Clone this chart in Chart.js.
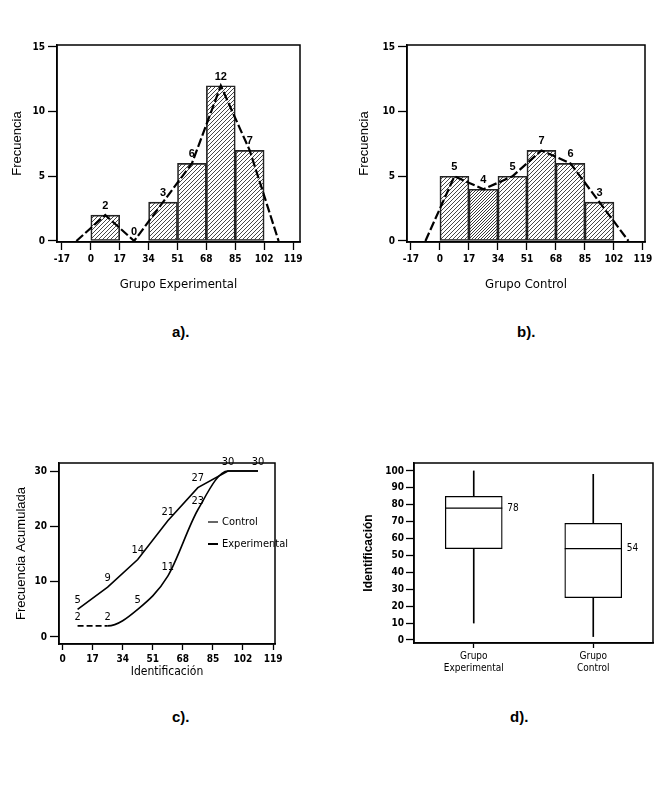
<!DOCTYPE html>
<html>
<head>
<meta charset="utf-8">
<script src="https://cdn.jsdelivr.net/npm/chart.js@4.4.1/dist/chart.umd.min.js"></script>
<style>
  body { margin: 0; background: #fff; width: 656px; height: 787px; position: relative; overflow: hidden; }
  canvas { position: absolute; }
  .cap { position: absolute; font: bold 15px 'Liberation Sans', Arial, sans-serif; color: #000; }
</style>
</head>
<body>
<canvas id="histA" width="320" height="270" style="left:0;top:30px"></canvas>
<canvas id="histB" width="326" height="270" style="left:330px;top:30px"></canvas>
<canvas id="cumC" width="300" height="250" style="left:0;top:440px"></canvas>
<canvas id="boxD" width="326" height="250" style="left:330px;top:440px"></canvas>
<div class="cap" style="left:172px;top:323px">a).</div>
<div class="cap" style="left:517px;top:323px">b).</div>
<div class="cap" style="left:172px;top:708px">c).</div>
<div class="cap" style="left:510px;top:708px">d).</div>
<script>
// histogram bins (class marks) and frequencies
const binMids = [8.5, 25.5, 42.5, 59.5, 76.5, 93.5];
const expFreq = [2, 0, 3, 6, 12, 7];
const ctlFreq = [5, 4, 5, 7, 6, 3];
// frequency polygons
const polyX = [-8.5, 8.5, 25.5, 42.5, 59.5, 76.5, 93.5, 110.5];
const expPoly = [0, 2, 0, 3, 6, 12, 7, 0];
const ctlPoly = [0, 5, 4, 5, 7, 6, 3, 0];
const histTicks = [-17, 0, 17, 34, 51, 68, 85, 102, 119];
const freqTicks = [0, 5, 10, 15];

// cumulative frequencies
const cumX = [8.5, 25.5, 42.5, 59.5, 76.5, 93.5, 110.5];
const ctlCum = [5, 9, 14, 21, 27, 30, 30];
const expCum = [2, 2, 5, 11, 23, 30, 30];
const cumXTicks = [0, 17, 34, 51, 68, 85, 102, 119];
const cumYTicks = [0, 10, 20, 30];

// box plots
const groups = [['Grupo', 'Experimental'], ['Grupo', 'Control']];
const boxMin = [10, 2];
const boxQ1 = [54, 25];
const boxMedian = [78, 54];
const boxQ3 = [85, 69];
const boxMax = [100, 98];
const idTicks = [0, 10, 20, 30, 40, 50, 60, 70, 80, 90, 100];

const NARROW = "'Liberation Sans Narrow', 'DejaVu Sans Condensed', sans-serif";
const SANS = "'Liberation Sans', Arial, sans-serif";
const tickFont = { family: NARROW, size: 10, weight: 'bold' };

const fixedTicks = values => scale => { scale.ticks = values.map(v => ({ value: v })); };

function hatch(gap, color) {
  const tile = document.createElement('canvas');
  tile.width = tile.height = gap;
  const t = tile.getContext('2d');
  t.strokeStyle = color;
  t.lineWidth = 0.9;
  t.beginPath();
  t.moveTo(0, gap); t.lineTo(gap, 0);
  t.moveTo(-1, 1); t.lineTo(1, -1);
  t.moveTo(gap - 1, gap + 1); t.lineTo(gap + 1, gap - 1);
  t.stroke();
  return t.createPattern(tile, 'repeat');
}

const framePlugin = {
  id: 'frame',
  afterDatasetsDraw(chart) {
    const { ctx, chartArea: a } = chart;
    ctx.save();
    ctx.strokeStyle = '#000';
    ctx.lineWidth = 1.5;
    ctx.strokeRect(a.left, a.top, a.right - a.left, a.bottom - a.top);
    ctx.restore();
  }
};

const barLabels = {
  id: 'barLabels',
  afterDatasetsDraw(chart) {
    const { ctx } = chart;
    const meta = chart.getDatasetMeta(1);
    const values = chart.data.datasets[1].data;
    ctx.save();
    ctx.font = 'bold 11px ' + SANS;
    ctx.fillStyle = '#000';
    ctx.textAlign = 'center';
    ctx.textBaseline = 'middle';
    meta.data.forEach((el, i) => ctx.fillText(String(values[i].y), el.x, el.y - 9));
    ctx.restore();
  }
};

function histogram(id, freq, poly, title, xMin, xMax, yWidth, titlePad, padRight, fills) {
  new Chart(document.getElementById(id), {
    type: 'bar',
    data: {
      datasets: [
        {
          type: 'line',
          data: polyX.map((x, i) => ({ x, y: poly[i] })),
          borderColor: '#000', borderWidth: 2.2, borderDash: [9, 3],
          pointRadius: 0, order: 0
        },
        {
          type: 'bar',
          data: binMids.map((x, i) => ({ x, y: freq[i] })),
          backgroundColor: fills, borderColor: '#222', borderWidth: 1,
          borderSkipped: false, barPercentage: 1, categoryPercentage: 1, order: 1
        }
      ]
    },
    options: {
      responsive: false,
      animation: false,
      layout: { padding: { top: 15, right: padRight, bottom: 0, left: 0 } },
      plugins: { legend: { display: false }, tooltip: { enabled: false } },
      scales: {
        x: {
          type: 'linear', min: xMin, max: xMax, offset: false,
          grid: { offset: false, drawOnChartArea: false, tickLength: 8, tickColor: '#000', tickWidth: 1.3 },
          border: { color: '#000', width: 1.5 },
          afterBuildTicks: fixedTicks(histTicks),
          ticks: { color: '#000', font: tickFont, padding: 3, maxRotation: 0, autoSkip: false },
          title: { display: true, text: title, color: '#000', font: { family: NARROW, size: 13 }, padding: { top: 0, bottom: 8 } },
          afterFit: s => { s.height = 58; }
        },
        y: {
          min: -0.08, max: 15.15,
          grid: { drawOnChartArea: false, tickLength: 9, tickColor: '#000', tickWidth: 1.3 },
          border: { color: '#000', width: 1.5 },
          afterBuildTicks: fixedTicks(freqTicks),
          ticks: { color: '#000', font: tickFont, padding: 3 },
          title: { display: true, text: 'Frecuencia', color: '#000', font: { family: SANS, size: 13 }, padding: { top: titlePad, bottom: 0 } },
          afterFit: s => { s.width = yWidth; }
        }
      }
    },
    plugins: [framePlugin, barLabels]
  });
}

const plain = hatch(4, '#333');
const dense = hatch(3, '#222');
histogram('histA', expFreq, expPoly, 'Grupo Experimental', -19.9, 123.1, 57, 10, 20, expFreq.map(() => plain));
histogram('histB', ctlFreq, ctlPoly, 'Grupo Control', -19.3, 120.2, 77, 27, 11, ctlFreq.map((_, i) => i === 1 ? dense : plain));

// cumulative curves
const pointLabels = {
  id: 'pointLabels',
  afterDatasetsDraw(chart) {
    const { ctx } = chart;
    ctx.save();
    ctx.font = '11px ' + NARROW;
    ctx.fillStyle = '#000';
    ctx.textAlign = 'center';
    ctx.textBaseline = 'middle';
    chart.data.datasets.forEach((ds, d) => {
      chart.getDatasetMeta(d).data.forEach((pt, i) => {
        if (d === 1 && expCum[i] === ctlCum[i]) return;
        ctx.fillText(String(ds.data[i].y), pt.x, pt.y - 9);
      });
    });
    ctx.restore();
  }
};

const innerLegend = {
  id: 'innerLegend',
  afterDraw(chart) {
    const { ctx, chartArea: a } = chart;
    ctx.save();
    ctx.font = '11px ' + NARROW;
    ctx.fillStyle = '#000';
    ctx.textBaseline = 'middle';
    chart.data.datasets.forEach((ds, i) => {
      const x = a.left + 149, y = a.top + 59 + i * 22;
      ctx.strokeStyle = '#000';
      ctx.lineWidth = i === 0 ? 1.2 : 2;
      ctx.beginPath(); ctx.moveTo(x, y); ctx.lineTo(x + 10, y); ctx.stroke();
      ctx.fillText(ds.label, x + 14, y);
    });
    ctx.restore();
  }
};

new Chart(document.getElementById('cumC'), {
  type: 'line',
  data: {
    datasets: [
      {
        label: 'Control',
        data: cumX.map((x, i) => ({ x, y: ctlCum[i] })),
        borderColor: '#000', borderWidth: 1.6, pointRadius: 0, tension: 0
      },
      {
        label: 'Experimental',
        data: cumX.map((x, i) => ({ x, y: expCum[i] })),
        borderColor: '#000', borderWidth: 1.6, pointRadius: 0,
        cubicInterpolationMode: 'monotone',
        segment: { borderDash: c => c.p0DataIndex === 0 ? [6, 3] : undefined }
      }
    ]
  },
  options: {
    responsive: false,
    animation: false,
    layout: { padding: { top: 23, right: 25, bottom: 0, left: 0 } },
    plugins: { legend: { display: false }, tooltip: { enabled: false } },
    scales: {
      x: {
        type: 'linear', min: -2, max: 120.1,
        grid: { drawOnChartArea: false, tickLength: 6, tickColor: '#000', tickWidth: 1.3 },
        border: { color: '#000', width: 1.5 },
        afterBuildTicks: fixedTicks(cumXTicks),
        ticks: { color: '#000', font: tickFont, padding: 3, maxRotation: 0, autoSkip: false },
        title: { display: true, text: 'Identificación', color: '#000', font: { family: NARROW, size: 12 }, padding: { top: 0, bottom: 11 } },
        afterFit: s => { s.height = 46; }
      },
      y: {
        min: -1.27, max: 31.45,
        grid: { drawOnChartArea: false, tickLength: 9, tickColor: '#000', tickWidth: 1.3 },
        border: { color: '#000', width: 1.5 },
        afterBuildTicks: fixedTicks(cumYTicks),
        ticks: { color: '#000', font: tickFont, padding: 3 },
        title: { display: true, text: 'Frecuencia Acumulada', color: '#000', font: { family: SANS, size: 13 }, padding: { top: 14, bottom: 0 } },
        afterFit: s => { s.width = 59; }
      }
    }
  },
  plugins: [framePlugin, pointLabels, innerLegend]
});

// box plots
const medianPlugin = {
  id: 'median',
  afterDatasetsDraw(chart) {
    const { ctx } = chart;
    const boxes = chart.getDatasetMeta(2).data;
    const y = chart.scales.y;
    ctx.save();
    ctx.strokeStyle = '#000';
    ctx.lineWidth = 1.3;
    ctx.fillStyle = '#000';
    ctx.font = '10px ' + NARROW;
    ctx.textBaseline = 'middle';
    boxMedian.forEach((m, i) => {
      const el = boxes[i];
      const py = y.getPixelForValue(m);
      ctx.beginPath();
      ctx.moveTo(el.x - el.width / 2, py);
      ctx.lineTo(el.x + el.width / 2, py);
      ctx.stroke();
      ctx.fillText(String(m), el.x + el.width / 2 + 5, py);
    });
    ctx.restore();
  }
};

new Chart(document.getElementById('boxD'), {
  type: 'bar',
  data: {
    labels: groups,
    datasets: [
      { data: boxQ1.map((q, i) => [boxMin[i], q]), backgroundColor: '#000', barThickness: 1, grouped: false, order: 2 },
      { data: boxQ3.map((q, i) => [q, boxMax[i]]), backgroundColor: '#000', barThickness: 1, grouped: false, order: 2 },
      {
        data: boxQ1.map((q, i) => [q, boxQ3[i]]),
        backgroundColor: '#fff', borderColor: '#000', borderWidth: 1.3, borderSkipped: false,
        barThickness: 57, grouped: false, order: 1
      }
    ]
  },
  options: {
    responsive: false,
    animation: false,
    layout: { padding: { top: 23, right: 3, bottom: 0, left: 0 } },
    plugins: { legend: { display: false }, tooltip: { enabled: false } },
    scales: {
      x: {
        offset: true,
        grid: { offset: false, drawOnChartArea: false, tickLength: 5, tickColor: '#000', tickWidth: 1.3 },
        border: { color: '#000', width: 1.5 },
        ticks: { color: '#000', font: { family: NARROW, size: 10, lineHeight: 1.25 }, padding: 2, maxRotation: 0 },
        afterFit: s => { s.height = 47; }
      },
      y: {
        min: -1.8, max: 104.7,
        grid: { drawOnChartArea: false, tickLength: 8, tickColor: '#000', tickWidth: 1.3 },
        border: { color: '#000', width: 1.5 },
        afterBuildTicks: fixedTicks(idTicks),
        ticks: { color: '#000', font: tickFont, padding: 2 },
        title: { display: true, text: 'Identificación', color: '#000', font: { family: SANS, size: 12, weight: 'bold' }, padding: { top: 31, bottom: 0 } },
        afterFit: s => { s.width = 84; }
      }
    }
  },
  plugins: [framePlugin, medianPlugin]
});
</script>
</body>
</html>
